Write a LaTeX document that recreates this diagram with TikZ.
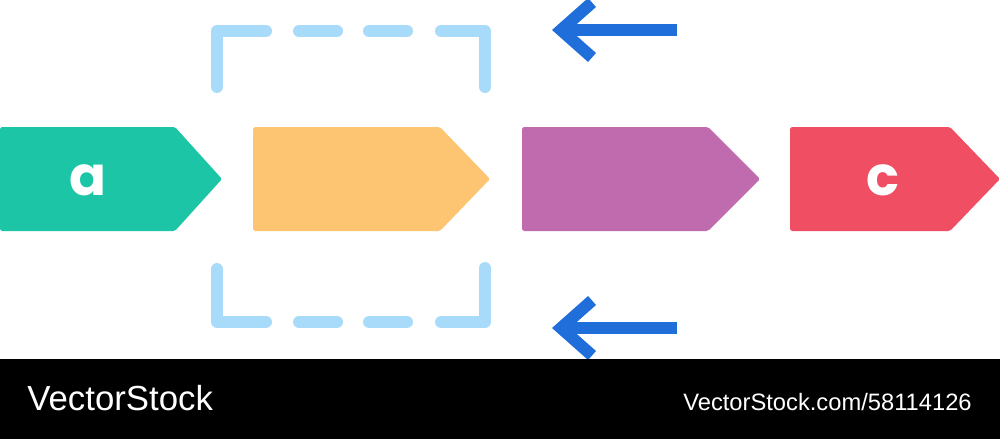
\documentclass[tikz,border=0pt]{standalone}
\usepackage{fontspec}
\setmainfont{Liberation Sans}
\newfontfamily\tagfont{Poppins}
\usepackage{xcolor}
\usetikzlibrary{arrows.meta, positioning}

\definecolor{tagteal}{HTML}{1CC5A5}
\definecolor{tagorange}{HTML}{FDC572}
\definecolor{tagpurple}{HTML}{C06BAE}
\definecolor{tagred}{HTML}{F04F63}
\definecolor{bracketblue}{HTML}{A8DBF9}
\definecolor{arrowblue}{HTML}{1F6ED9}

\begin{document}
\begin{tikzpicture}[
            x=0.02cm, y=-0.02cm,
            tagbox/.style={rounded corners=1pt},
            letter/.style={text=white, inner sep=0pt, font=\tagfont\bfseries\fontsize{31}{31}\selectfont},
            bracket/.style={draw=bracketblue, line width=12*0.02cm, line cap=round, line join=round},
            pointer/.style={draw=arrowblue, line width=12*0.02cm,
                -{Straight Barb[length=0.62cm, width=1.1cm]}},
            footer/.style={text=white, inner sep=0pt}
        ]

        \useasboundingbox (0,0) rectangle (1000,439);

        % Tags (manual layout to match figure)
        \fill[tagbox, tagteal] (0,127) -- (175,127) -- (222,179) -- (175,231) -- (0,231) -- cycle;
        \fill[tagbox, tagorange] (253,127) -- (440,127) -- (490,179) -- (440,231) -- (253,231) -- cycle;
        \fill[tagbox, tagpurple] (522,127) -- (708,127) -- (760,179) -- (708,231) -- (522,231) -- cycle;
        \fill[tagbox, tagred] (790,127) -- (950,127) -- (1000,179) -- (950,231) -- (790,231) -- cycle;

        \node[letter] (a) at (88,180) {a};
        \node[letter] (c) at (883,180) {c};

        % Dashed bracket, top and bottom
        \draw[bracket] (217,87) -- (217,31) -- (266,31);
        \draw[bracket] (441,31) -- (485,31) -- (485,87);
        \draw[bracket] (217,269) -- (217,322) -- (266,322);
        \draw[bracket] (441,322) -- (485,322) -- (485,268);
        \foreach \xa/\xb in {299/337, 369/407} {
            \draw[bracket] (\xa,31) -- (\xb,31);
            \draw[bracket] (\xa,322) -- (\xb,322);
        }

        % Arrows
        \coordinate (top start) at (677,30);
        \coordinate (top end) at (552,30);
        \coordinate (bottom start) at (677,328);
        \coordinate (bottom end) at (552,328);

        \draw[pointer] (top start) -- (top end);
        \draw[pointer] (bottom start) -- (bottom end);

        % Footer
        \fill[black] (0,359) rectangle (1000,439);
        \node[footer, anchor=base west, font=\fontsize{19.8}{20}\selectfont] (brand) at (27,410) {VectorStock};
        \node[footer, anchor=base east, font=\fontsize{13.5}{14}\selectfont] (link) at (972,410) {VectorStock.com/58114126};

    \end{tikzpicture}
\end{document}
